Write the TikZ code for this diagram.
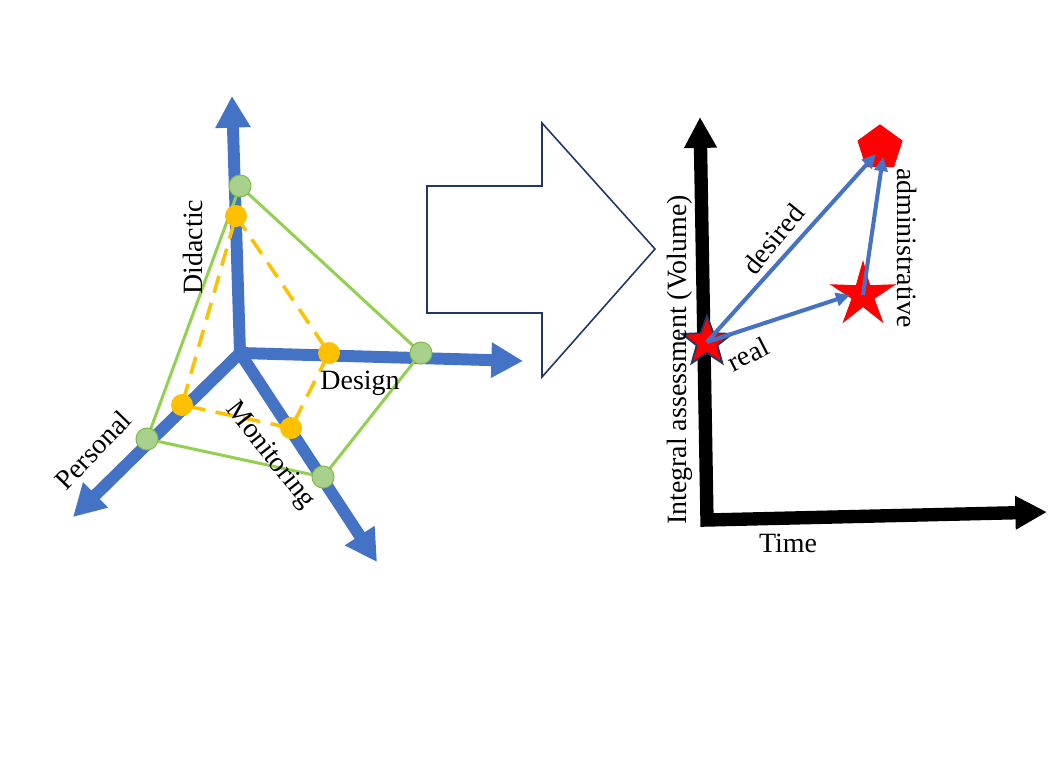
\documentclass[tikz,border=0pt]{standalone}
\usepackage{fontspec}
\setmainfont{Liberation Serif}
\usetikzlibrary{arrows.meta,shapes.geometric}
\definecolor{axblue}{HTML}{4472C4}
\definecolor{lgreen}{HTML}{92D050}
\definecolor{dotgreen}{HTML}{A9D18E}
\definecolor{dotorange}{HTML}{FFC000}
\definecolor{navy}{HTML}{203864}
\begin{document}
\begin{tikzpicture}[x=0.02cm,y=-0.02cm,
  every node/.style={font=\fontsize{15.9pt}{18pt}\selectfont, inner sep=0pt},
  blueaxis/.style={draw=axblue, line width=6.8pt, -{Triangle[length=18pt,width=19pt]}},
  blackaxis/.style={draw=black, line width=7.6pt, line join=miter,
     {Triangle[length=17.6pt,width=17.6pt]}-{Triangle[length=18pt,width=18pt]}},
  greenline/.style={draw=lgreen, line width=1.7pt},
  orangeline/.style={draw=dotorange, line width=2pt, dash pattern=on 10pt off 6pt},
  gdot/.style={circle, fill=dotgreen, draw=lgreen!90!black, line width=0.6pt, minimum size=0.44cm},
  odot/.style={circle, fill=dotorange, minimum size=0.44cm},
  smallarrow/.style={draw=axblue, line width=2.3pt, -{Triangle[length=8pt,width=7.5pt]}},
  bigarrow/.style={draw=navy, line width=0.9pt, line join=miter}
]
\useasboundingbox (0,0) rectangle (1052,762);
\fill[white] (0,0) rectangle (1052,762);

% ---------- left: 4 axes ----------
\coordinate (O) at (240,353);
\coordinate (Dt) at (232,96);
\coordinate (Dst) at (523,361);
\coordinate (Mt) at (377,562);
\coordinate (Pt) at (73,517);
\draw[blueaxis] (O) -- (Dt);
\draw[blueaxis] (O) -- (Dst);
\draw[blueaxis] (O) -- (Mt);
\draw[blueaxis] (O) -- (Pt);

% points
\coordinate (gTc) at (240,186);
\coordinate (gDc) at (421,353);
\coordinate (gPc) at (147,439);
\coordinate (gMc) at (323,477);
\coordinate (oTc) at (236,216);
\coordinate (oDc) at (329,353);
\coordinate (oPc) at (182,405);
\coordinate (oMc) at (291,428);

\draw[greenline] (gTc) -- (gDc) -- (gMc) -- (gPc) -- cycle;
\draw[orangeline] (oTc) -- (oDc) -- (oMc) -- (oPc) -- cycle;

\node[gdot] (gT) at (gTc) {};
\node[gdot] (gD) at (gDc) {};
\node[gdot] (gP) at (gPc) {};
\node[gdot] (gM) at (gMc) {};
\node[odot] (oT) at (oTc) {};
\node[odot] (oD) at (oDc) {};
\node[odot] (oP) at (oPc) {};
\node[odot] (oM) at (oMc) {};

\node[rotate=90] (didactic) at (193,247) {Didactic};
\node (design) at (360,383) {Design};
\node[rotate=-52] (monitoring) at (270,456) {Monitoring};
\node[rotate=46] (personal) at (93,450) {Personal};

% ---------- big hollow arrow ----------
\draw[bigarrow] (427,186) -- (542,186) -- (542,123) -- (655,249) -- (542,377) -- (542,313) -- (427,313) -- cycle;

% ---------- right chart ----------
\coordinate (Yt) at (700,117);
\coordinate (C) at (707,520);
\coordinate (Xt) at (1047,512);
\draw[blackaxis] (Yt) -- (C) -- (Xt);

\node[star, star points=5, star point ratio=2.4, fill=red, draw=navy, line width=1pt,
      minimum size=1.05cm] (real) at (707,342) {};
\node[star, star points=5, star point ratio=2.9, fill=red, minimum size=1.4cm] (admin) at (863,295) {};
\node[regular polygon, regular polygon sides=5, fill=red, minimum size=0.95cm] (pent) at (880,148) {};

\coordinate (pa) at (876,154);
\coordinate (pb) at (883,157);
\coordinate (ae) at (850,295);
\draw[smallarrow] (real.center) -- (pa);
\draw[smallarrow] (real.center) -- (ae);
\draw[smallarrow] (admin.center) -- (pb);

\node[rotate=51] (desired) at (773,239) {desired};
\node[rotate=-90] (administrative) at (907,248) {administrative};
\node[rotate=27] (reallab) at (748,354) {real};
\node[rotate=90] (ylab) at (680,360) {Integral assessment (Volume)};
\node (time) at (788,543) {Time};
\end{tikzpicture}
\end{document}
